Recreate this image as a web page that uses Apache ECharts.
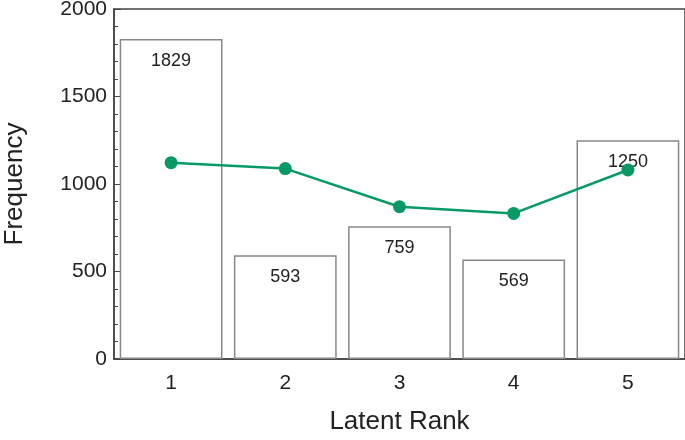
<!DOCTYPE html>
<html>
<head>
<meta charset="utf-8">
<script src="https://cdn.jsdelivr.net/npm/echarts@6/dist/echarts.min.js"></script>
<style>
  html, body { margin: 0; padding: 0; background: #fff; }
  #chart { width: 685px; height: 440px; }
</style>
</head>
<body>
<div id="chart"></div>
<script>
const ranks = ['1', '2', '3', '4', '5']
const frequencies = [1829, 593, 759, 569, 1250]
const lineValues = [1122, 1088, 870, 832, 1080]

const fontFamily = '"Liberation Sans", Arial, sans-serif'
const axisColor = '#444'

const chart = echarts.init(document.getElementById('chart'))

chart.setOption({
  animation: false,
  grid: {
    left: 114,
    right: 0,
    top: 9,
    bottom: 81,
    outerBoundsMode: 'none',
    containLabel: false,
    show: true,
    borderColor: axisColor,
    borderWidth: 1.5
  },
  xAxis: {
    type: 'category',
    data: ranks,
    name: 'Latent Rank',
    nameLocation: 'middle',
    nameGap: 50,
    nameTextStyle: { fontFamily, fontSize: 26, color: '#222' },
    axisLine: { lineStyle: { color: axisColor, width: 1.5 } },
    axisTick: {
      inside: true,
      alignWithLabel: true,
      length: 6,
      lineStyle: { color: axisColor }
    },
    axisLabel: { fontFamily, fontSize: 21, color: '#222', margin: 14 },
    splitLine: { show: false }
  },
  yAxis: {
    type: 'value',
    min: 0,
    max: 2000,
    interval: 500,
    name: 'Frequency',
    nameLocation: 'middle',
    nameGap: 86,
    nameTextStyle: { fontFamily, fontSize: 26, color: '#222' },
    axisLine: { show: true, lineStyle: { color: axisColor, width: 1.5 } },
    axisTick: {
      show: true,
      inside: true,
      length: 7,
      lineStyle: { color: axisColor }
    },
    minorTick: {
      show: true,
      splitNumber: 5,
      length: 4,
      lineStyle: { color: axisColor }
    },
    axisLabel: {
      fontFamily,
      fontSize: 21,
      color: '#222',
      margin: 7,
      formatter: v => String(v)
    },
    splitLine: { show: false }
  },
  series: [
    {
      type: 'bar',
      data: frequencies,
      barWidth: '90%',
      itemStyle: {
        color: '#fff',
        borderColor: '#888',
        borderWidth: 1.5
      },
      label: {
        show: true,
        position: 'insideTop',
        distance: 13,
        fontFamily,
        fontSize: 18,
        color: '#222'
      },
      z: 1
    },
    {
      type: 'line',
      data: lineValues,
      symbol: 'circle',
      symbolSize: 13,
      lineStyle: { color: '#079a64', width: 2.5 },
      itemStyle: { color: '#079a64' },
      z: 3
    }
  ]
})
</script>
</body>
</html>
